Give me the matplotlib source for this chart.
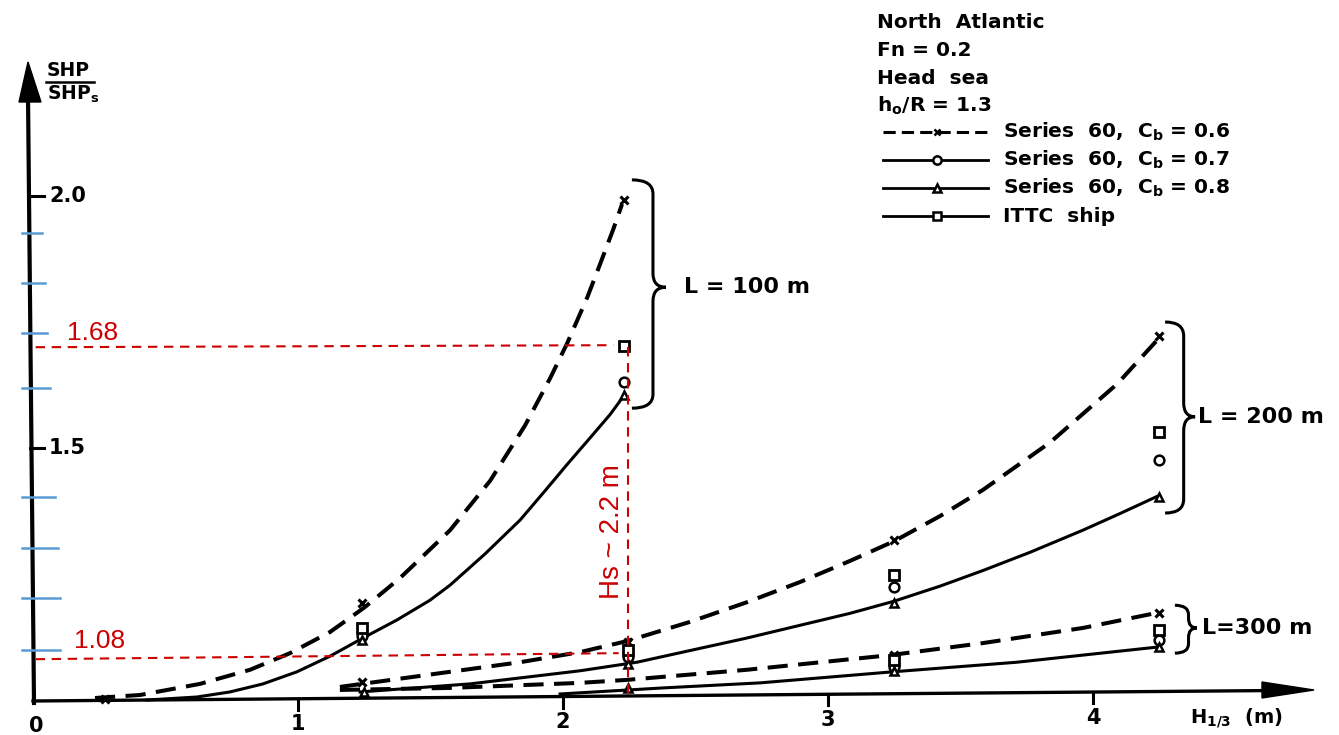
import matplotlib
matplotlib.use("Agg")
import matplotlib.pyplot as plt
import matplotlib.transforms as mtrans
from matplotlib.path import Path
from matplotlib.patches import PathPatch, Polygon
from matplotlib.lines import Line2D

plt.rcParams['font.family'] = ['DejaVu Sans']

# ---------------- data ----------------
# L = 100 m
l100_dash_h = [0.234, 0.404, 0.630, 0.819, 0.970, 1.121, 1.249, 1.385, 1.574, 1.725,
               1.857, 1.951, 2.015, 2.091, 2.140, 2.189, 2.223]
l100_dash_v = [1.004, 1.010, 1.032, 1.060, 1.093, 1.135, 1.183, 1.242, 1.337, 1.435,
               1.545, 1.638, 1.707, 1.798, 1.865, 1.933, 1.984]
l100_solid_h = [0.430, 0.619, 0.743, 0.868, 0.996, 1.121, 1.245, 1.374, 1.498, 1.574,
                1.706, 1.838, 1.932, 2.015, 2.102, 2.177, 2.226]
l100_solid_v = [1.000, 1.006, 1.016, 1.032, 1.056, 1.087, 1.123, 1.159, 1.198, 1.228,
                1.290, 1.357, 1.415, 1.467, 1.520, 1.566, 1.601]
# L = 200 m
l200_dash_h = [1.158, 1.574, 1.838, 2.064, 2.242, 2.479, 2.694, 2.894, 3.083, 3.249,
               3.423, 3.585, 3.838, 4.091, 4.242]
l200_dash_v = [1.026, 1.056, 1.075, 1.095, 1.117, 1.155, 1.194, 1.234, 1.276, 1.315,
               1.365, 1.417, 1.511, 1.627, 1.714]
l200_solid_h = [1.234, 1.649, 2.064, 2.279, 2.694, 3.083, 3.249, 3.423, 3.585, 3.762,
                3.962, 4.102, 4.242]
l200_solid_v = [1.016, 1.032, 1.058, 1.075, 1.123, 1.172, 1.196, 1.226, 1.257, 1.293,
                1.337, 1.370, 1.404]
# L = 300 m
l300_dash_h = [1.158, 1.574, 2.064, 2.242, 2.694, 3.234, 3.585, 3.962, 4.242]
l300_dash_v = [1.020, 1.024, 1.034, 1.040, 1.060, 1.089, 1.113, 1.143, 1.173]
l300_solid_h = [1.989, 2.377, 2.743, 3.245, 3.713, 4.242]
l300_solid_v = [1.012, 1.024, 1.034, 1.056, 1.075, 1.105]

# measured points: Series 60 Cb=0.6 (x), Cb=0.7 (o), Cb=0.8 (^), ITTC ship (square)
cb06_h = [0.27, 1.24, 2.23, 1.24, 2.245, 3.25, 4.25, 3.25, 4.25]
cb06_v = [1.003, 1.192, 1.992, 1.036, 1.115, 1.317, 1.722, 1.089, 1.173]
cb07_h = [1.24, 2.23, 2.245, 3.25, 4.25, 3.25, 4.25]
cb07_v = [1.127, 1.631, 1.085, 1.224, 1.476, 1.065, 1.119]
cb08_h = [1.24, 2.23, 1.25, 2.245, 3.25, 4.25, 2.245, 3.25, 4.25]
cb08_v = [1.119, 1.605, 1.016, 1.071, 1.192, 1.403, 1.024, 1.058, 1.105]
ittc_h = [1.24, 2.23, 2.245, 3.25, 4.25, 3.25, 4.25]
ittc_v = [1.143, 1.702, 1.099, 1.248, 1.532, 1.079, 1.139]

x_ticks = [1, 2, 3, 4]
x_tick_labels = ['0', '1', '2', '3', '4']
y_ticks = [2.0, 1.5]
y_tick_labels = ['2.0', '1.5']
blue_ticks = [1.927, 1.827, 1.728, 1.619, 1.403, 1.302, 1.202, 1.099]

red_hi_h = [0.01, 2.19]
red_hi_v = [1.700, 1.704]
red_lo_h = [0.01, 2.21]
red_lo_v = [1.081, 1.093]
red_vert_h = [2.245, 2.245]
red_vert_v = [1.700, 1.010]

legend_labels = ['Series  60,  C$_{\\mathbf{b}}$ = 0.6',
                 'Series  60,  C$_{\\mathbf{b}}$ = 0.7',
                 'Series  60,  C$_{\\mathbf{b}}$ = 0.8',
                 'ITTC  ship']
header_lines = ['North  Atlantic', 'Fn = 0.2', 'Head  sea', 'h$_{\\mathbf{o}}$/R = 1.3']

# ---------------- figure ----------------
W, Hpx = 1339, 735
fig = plt.figure(figsize=(W / 100, Hpx / 100), dpi=100)
ax = fig.add_axes([0, 0, 1, 1])
ax.set_xlim(-0.1245, 4.9283)
ax.set_ylim(0.9306, 2.3889)
ax.axis('off')

PIX = mtrans.Affine2D().scale(1, -1).translate(0, Hpx)  # pixel coords, y downward

def pline(xs, ys, **kw):
    ax.add_line(Line2D(xs, ys, transform=PIX, **kw))

K = 'black'
DLW = 2.9
SLW = 2.2

# curves
ax.plot(l100_dash_h, l100_dash_v, color=K, lw=DLW, dashes=(5.0, 2.6))
ax.plot(l100_solid_h, l100_solid_v, color=K, lw=SLW)
ax.plot(l200_dash_h, l200_dash_v, color=K, lw=DLW, dashes=(5.0, 2.6))
ax.plot(l200_solid_h, l200_solid_v, color=K, lw=SLW)
ax.plot(l300_dash_h, l300_dash_v, color=K, lw=DLW, dashes=(5.0, 2.6))
ax.plot(l300_solid_h, l300_solid_v, color=K, lw=SLW)

# markers
ax.plot(cb06_h, cb06_v, ls='none', marker='x', ms=6, mew=2.2, color=K, zorder=5)
ax.plot(cb07_h, cb07_v, ls='none', marker='o', ms=7, mew=1.8, mec=K, mfc='white', zorder=5)
ax.plot(cb08_h, cb08_v, ls='none', marker='^', ms=6, mew=1.8, mec=K, mfc='white', zorder=5)
ax.plot(ittc_h, ittc_v, ls='none', marker='s', ms=7, mew=2.0, mec=K, mfc='white', zorder=6)

# axes with arrows (slightly tilted as in scan)
pline([33, 1275], [701, 690.5], color=K, lw=2.4)
ax.add_patch(Polygon([(1262, 682), (1314, 690), (1262, 698)], closed=True,
                     transform=PIX, color=K))
pline([34, 28], [703, 95], color=K, lw=3.0)
ax.add_patch(Polygon([(19, 102), (28, 62), (41, 102)], closed=True, transform=PIX, color=K))

# x ticks and labels
for t in x_ticks:
    xd, _ = ax.transData.transform((t, 1.0))
    y0 = 701 - (xd - 33) * 10.5 / 1242
    pline([xd, xd], [y0, y0 + 11], color=K, lw=2.2)
for i, lab in enumerate(x_tick_labels):
    xd, _ = ax.transData.transform((i, 1.0))
    xd = xd + (3 if i == 0 else 0)
    ax.text(xd, 726 - i * 2.0, lab, transform=PIX, ha='center', va='center',
            fontsize=15, fontweight='bold')

# y ticks and labels
for t, lab in zip(y_ticks, y_tick_labels):
    _, yd = ax.transData.transform((0, t))
    yp = Hpx - yd
    pline([30, 44], [yp, yp], color=K, lw=2.2)
    ax.text(49, yp, lab, transform=PIX, ha='left', va='center', fontsize=15, fontweight='bold')

# blue tick marks added on the scan
blue_ends = [42, 45, 47, 50, 55, 58, 60, 60]
for t, xe in zip(blue_ticks, blue_ends):
    _, yd = ax.transData.transform((0, t))
    yp = Hpx - yd
    pline([22, xe], [yp, yp], color='#5b9bd5', lw=1.8)

# axis labels
ax.text(47, 71, 'SHP', transform=PIX, ha='left', va='center', fontsize=13.5, fontweight='bold')
pline([46, 94], [82, 82], color=K, lw=1.8)
ax.text(47, 94, 'SHP$_{\\mathbf{s}}$', transform=PIX, ha='left', va='center', fontsize=13.5,
        fontweight='bold')
ax.text(1190, 718, 'H$_{\\mathbf{1/3}}$  (m)', transform=PIX, ha='left', va='center',
        fontsize=14, fontweight='bold')

# braces
def brace(h, vt, vb, vm, w, label, lx):
    x0, yt = ax.transData.transform((h, vt))
    _, yb = ax.transData.transform((h, vb))
    _, ym = ax.transData.transform((h, vm))
    xm = x0 + w * 0.62
    xt = x0 + w
    r = min(14, (yt - yb) / 5)
    verts = [(x0, yt), (xm, yt), (xm, yt - r), (xm, ym + r), (xm, ym), (xt, ym),
             (xm, ym), (xm, ym - r), (xm, yb + r), (xm, yb), (x0, yb)]
    codes = [Path.MOVETO, Path.CURVE3, Path.CURVE3, Path.LINETO, Path.CURVE3, Path.CURVE3,
             Path.CURVE3, Path.CURVE3, Path.LINETO, Path.CURVE3, Path.CURVE3]
    ax.add_patch(PathPatch(Path(verts, codes), transform=mtrans.IdentityTransform(),
                           fill=False, lw=2.2, ec=K))
    ax.text(lx, Hpx - ym, label, transform=PIX, ha='left', va='center', fontsize=16,
            fontweight='bold')

brace(2.26, 2.032, 1.579, 1.819, 34, 'L = 100 m', 684)
brace(4.272, 1.750, 1.371, 1.562, 30, 'L = 200 m', 1198)
brace(4.309, 1.188, 1.093, 1.143, 22, 'L=300 m', 1202)

# header and legend
for i, s in enumerate(header_lines):
    ax.text(877, 23 + i * 27.5, s, transform=PIX, ha='left', va='center', fontsize=14.5,
            fontweight='bold')
leg_styles = [dict(marker='x', dashes=(4.0, 2.0), lw=2.2),
              dict(marker='o', lw=2.0),
              dict(marker='^', lw=2.0),
              dict(marker='s', lw=2.0)]
for i, (lab, st) in enumerate(zip(legend_labels, leg_styles)):
    yp = 132 + i * 28
    kw = dict(color=K, lw=st['lw'])
    if 'dashes' in st:
        kw['dashes'] = st['dashes']
    pline([883, 988], [yp, yp], **kw)
    ax.add_line(Line2D([937], [yp], transform=PIX, ls='none', marker=st['marker'],
                       ms=6 if st['marker'] != 'x' else 5, mew=1.8, mec=K, mfc='white'))
    ax.text(1003, yp, lab, transform=PIX, ha='left', va='center', fontsize=14.5,
            fontweight='bold')

# red annotations
RED = '#cc0000'
ax.plot(red_hi_h, red_hi_v, color=RED, lw=1.5, dashes=(4.5, 3.2), zorder=7)
ax.plot(red_lo_h, red_lo_v, color=RED, lw=1.5, dashes=(4.5, 3.2), zorder=7)
ax.plot(red_vert_h, red_vert_v, color=RED, lw=1.5, dashes=(4.5, 3.2), zorder=7)
ax.text(0.130, 1.728, '1.68', color=RED, fontsize=19, family='Liberation Sans',
        ha='left', va='center')
ax.text(0.155, 1.117, '1.08', color=RED, fontsize=19, family='Liberation Sans',
        ha='left', va='center')
ax.text(2.185, 1.335, 'Hs ~ 2.2 m', color=RED, fontsize=20, family='Liberation Sans',
        rotation=90, ha='center', va='center')

fig.savefig('out.png', dpi=100)
